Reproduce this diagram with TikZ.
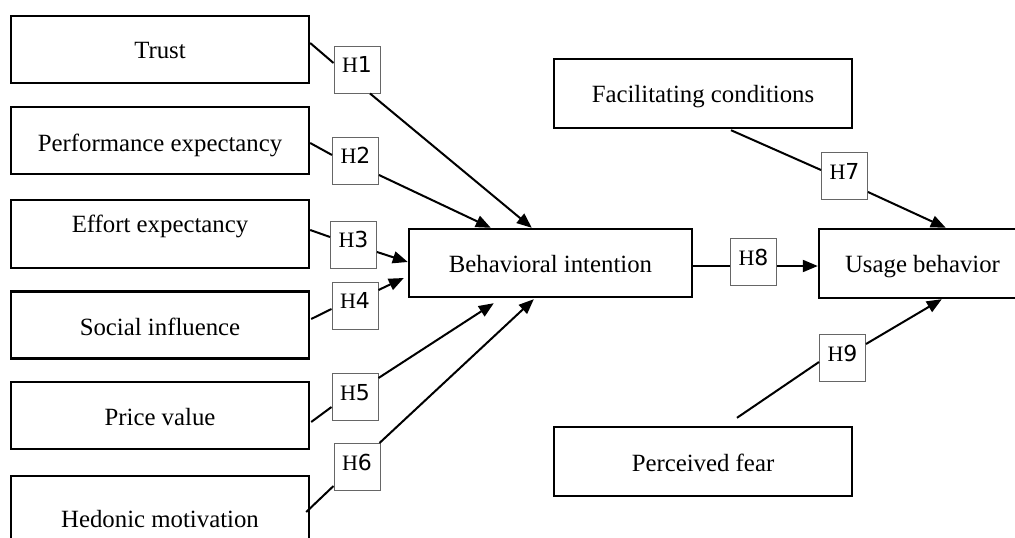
\documentclass[tikz,border=0pt]{standalone}
\usepackage{fontspec}
\setmainfont{Liberation Serif}
\newfontfamily\digitfont{DejaVu Sans}
\usetikzlibrary{arrows.meta,calc}
\begin{document}
\begin{tikzpicture}[x=1pt,y=-1pt,
  mainbox/.style={draw=black, line width=2.4pt, minimum width=298pt, minimum height=67pt, inner sep=0pt},
  hbox/.style={draw=black!60, line width=1pt, minimum width=46pt, minimum height=47pt, inner sep=0pt, fill=white},
  maintext/.style={anchor=base, inner sep=0pt, font=\fontsize{24.8}{28}\selectfont},
  htext/.style={anchor=base, inner sep=0pt, font=\fontsize{22}{26}\selectfont},
  conn/.style={line width=2pt},
  arr/.style={line width=2pt, -{Triangle[length=15pt,width=12pt]}}]
\useasboundingbox (0,0) rectangle (1015,538);
\clip (0,0) rectangle (1015,538);
\fill[white] (0,0) rectangle (1015,538);

% main boxes
\node[mainbox] (trust) at (160,49.5) {};
\node[mainbox] (pe) at (160,140.5) {};
\node[mainbox, minimum height=68pt] (ee) at (160,234) {};
\node[mainbox] (si) at (160,325) {};
\node[mainbox] (pv) at (160,415.5) {};
\node[mainbox, minimum height=72pt] (hm) at (160,512) {};
\node[mainbox, minimum width=283pt, minimum height=68pt] (bi) at (550.5,263) {};
\node[mainbox, minimum height=69pt] (fc) at (703,93.5) {};
\node[mainbox, minimum height=69pt] (pf) at (703,461.5) {};
\node[mainbox, minimum width=207pt, minimum height=69pt] (ub) at (922.5,263.5) {};

% texts
\node[maintext] (ttrust) at (160,58) {Trust};
\node[maintext] (tpe) at (160,151) {Performance expectancy};
\node[maintext] (tee) at (160,232) {Effort expectancy};
\node[maintext] (tsi) at (160,335) {Social influence};
\node[maintext] (tpv) at (160,425) {Price value};
\node[maintext] (thm) at (160,527) {Hedonic motivation};
\node[maintext] (tbi) at (550.5,272) {Behavioral intention};
\node[maintext] (tfc) at (703,102) {Facilitating conditions};
\node[maintext] (tpf) at (703,471) {Perceived fear};
\node[maintext] (tub) at (922.5,272) {Usage behavior};

% hypothesis boxes
\node[hbox] (h1) at (357,69.5) {};
\node[hbox] (h2) at (355.5,160.5) {};
\node[hbox] (h3) at (353.5,244.5) {};
\node[hbox] (h4) at (355,305.5) {};
\node[hbox] (h5) at (355,397) {};
\node[hbox] (h6) at (357,467) {};
\node[hbox] (h7) at (844.5,176) {};
\node[hbox] (h8) at (753.5,262) {};
\node[hbox] (h9) at (842.5,358) {};

\foreach \n/\d in {h1/1,h2/2,h3/3,h4/4,h5/5,h6/6,h7/7,h8/8,h9/9}
  \node[htext] (t\n) at ($(\n.center)+(0,3)$) {H{\digitfont\d}};

% connectors
\draw[conn] ($(trust.east)+(0,-6.5)$) -- ($(h1.west)+(0,-6.5)$);
\draw[arr] ($(h1.south)+(13,0)$) -- ($(bi.north west)+(124,0)$);

\draw[conn] ($(pe.east)+(0,2.5)$) -- ($(h2.west)+(0,-5.5)$);
\draw[arr] ($(h2.east)+(0,14.5)$) -- ($(bi.north west)+(83,0)$);

\draw[conn] ($(ee.east)+(0,-4)$) -- ($(h3.west)+(0,-7.5)$);
\draw[arr] ($(h3.east)+(0,7.5)$) -- ($(bi.west)+(0,-1)$);

\draw[conn] ($(si.east)+(1,-6)$) -- ($(h4.west)+(0,3.5)$);
\draw[arr] ($(h4.east)+(0,-15.5)$) -- ($(bi.west)+(-4,15)$);

\draw[conn] ($(pv.east)+(1,6.5)$) -- ($(h5.west)+(0,10)$);
\draw[arr] ($(h5.east)+(0,-19)$) -- ($(bi.south west)+(86,5)$);

\draw[conn] ($(hm.east)+(-4,0)$) -- ($(h6.west)+(0,19)$);
\draw[arr] ($(h6.north east)+(-1,0)$) -- ($(bi.south west)+(126,1)$);

\draw[conn] ($(fc.south)+(28,1)$) -- ($(h7.west)+(0,-6)$);
\draw[arr] ($(h7.east)+(0,16)$) -- ($(ub.north west)+(128,0)$);

\draw[conn] ($(bi.east)+(0,3)$) -- ($(h8.west)+(0,4)$);
\draw[arr] ($(h8.east)+(0,4)$) -- ($(ub.west)+(0,2.5)$);

\draw[conn] ($(pf.north)+(34,-8)$) -- ($(h9.west)+(0,4)$);
\draw[arr] ($(h9.east)+(0,-14)$) -- ($(ub.south west)+(124,0)$);
\end{tikzpicture}
\end{document}
